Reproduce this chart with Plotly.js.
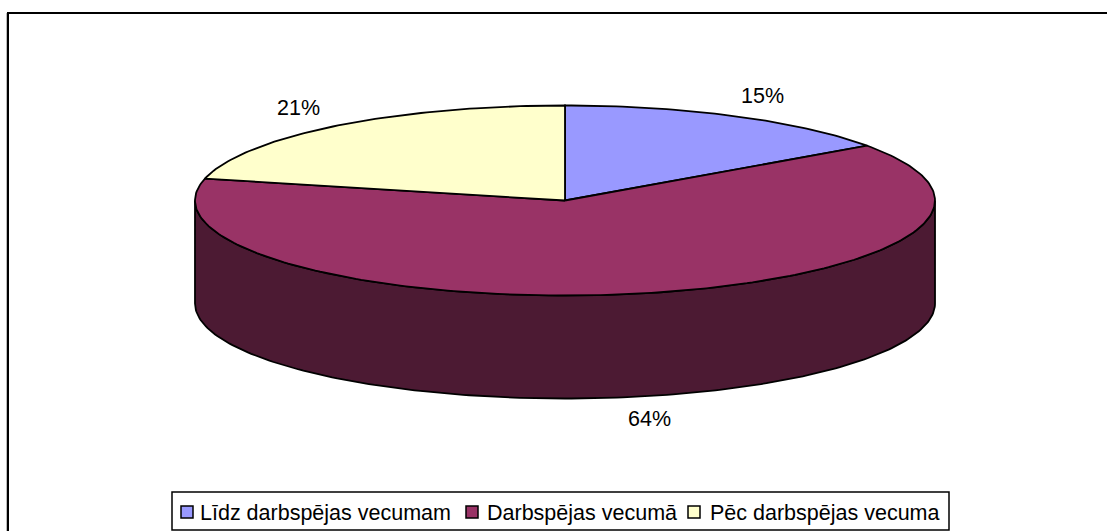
<!DOCTYPE html>
<html>
<head>
<meta charset="utf-8">
<script src="https://cdn.plot.ly/plotly-3.0.1.min.js"></script>
<style>html,body{margin:0;padding:0;background:#fff}#chart{width:1107px;height:531px}</style>
</head>
<body>
<div id="chart"></div>
<script>
var categories = ['Līdz darbspējas vecumam', 'Darbspējas vecumā', 'Pēc darbspējas vecuma'];
var values = [15.2, 63.5, 21.3];
var topColors = ['#9999FF', '#993366', '#FFFFCC'];
var sideColor = '#4C1A33';

// Pie geometry, in the pixel-sized axis units
var cx = 565, cy = 200.5, rx = 370, ry = 95, depth = 103;
var fontFamily = '"Liberation Sans", Arial, sans-serif';
var fontSize = 21.5;
var outline = {color: '#000', width: 1.8, shape: 'linear'};

var total = values.reduce(function (a, b) { return a + b; }, 0);

function rimPoint(fraction, drop) {
  var a = fraction * 2 * Math.PI;
  return [cx + rx * Math.sin(a), cy - ry * Math.cos(a) + drop];
}
function arc(from, to, drop) {
  var pts = [], n = Math.max(2, Math.ceil(Math.abs(to - from) * 360));
  for (var i = 0; i <= n; i++) pts.push(rimPoint(from + (to - from) * i / n, drop));
  return pts;
}
function areaTrace(pts, color, name) {
  return {
    type: 'scatter', mode: 'lines', name: name,
    x: pts.map(function (p) { return p[0]; }),
    y: pts.map(function (p) { return p[1]; }),
    fill: 'toself', fillcolor: color, line: outline,
    hoverinfo: 'skip', showlegend: false, cliponaxis: false
  };
}

var traces = [];
// the wall shows along the near half of the rim
traces.push(areaTrace(arc(0.25, 0.75, 0).concat(arc(0.75, 0.25, depth)).concat([rimPoint(0.25, 0)]), sideColor, 'side'));
var acc = 0;
values.forEach(function (v, i) {
  var from = acc / total, to = (acc + v) / total;
  acc += v;
  traces.push(areaTrace([[cx, cy]].concat(arc(from, to, 0)).concat([[cx, cy]]), topColors[i], categories[i]));
});

// percentage labels
var labelPos = [[762, 96], [649, 419], [298, 108]];
var annotations = values.map(function (v, i) {
  return {x: labelPos[i][0], y: labelPos[i][1], xref: 'x', yref: 'y', text: Math.round(v / total * 100) + '%',
          showarrow: false, xanchor: 'center', yanchor: 'middle', font: {family: fontFamily, size: fontSize, color: '#000'}};
});

// legend
var legendBox = {x0: 172, x1: 949, y0: 492, y1: 530};
var legendY = 512;
var legendTextY = 513;
var swatchX = [187, 472, 694];
var legendTextX = [199, 486, 709];
traces.push({
  type: 'scatter', mode: 'markers', x: swatchX, y: swatchX.map(function () { return legendY; }),
  marker: {symbol: 'square', size: 12, color: topColors, line: {color: '#000', width: 1.5}},
  hoverinfo: 'skip', showlegend: false, cliponaxis: false, name: 'legend'
});
categories.forEach(function (c, i) {
  annotations.push({x: legendTextX[i], y: legendTextY, xref: 'x', yref: 'y', text: c, showarrow: false,
    xanchor: 'left', yanchor: 'middle', xshift: -1, font: {family: fontFamily, size: fontSize, color: '#000'}});
});

var shapes = [
  {type: 'rect', xref: 'x', yref: 'y', x0: legendBox.x0, x1: legendBox.x1, y0: legendBox.y0, y1: legendBox.y1, line: {color: '#000', width: 1.5}, fillcolor: '#fff', layer: 'below'},
  {type: 'line', xref: 'x', yref: 'y', x0: 6.5, x1: 6.5, y0: 13, y1: 531, line: {color: '#bbb', width: 1}},
  {type: 'line', xref: 'x', yref: 'y', x0: 8, x1: 8, y0: 12, y1: 531, line: {color: '#000', width: 2}},
  {type: 'line', xref: 'x', yref: 'y', x0: 7, x1: 1107, y0: 13, y1: 13, line: {color: '#000', width: 2}}
];

var hidden = {visible: false, showgrid: false, zeroline: false, fixedrange: true};
var layout = {
  width: 1107, height: 531, margin: {l: 0, r: 0, t: 0, b: 0},
  paper_bgcolor: '#fff', plot_bgcolor: '#fff', showlegend: false,
  xaxis: Object.assign({range: [0, 1107]}, hidden),
  yaxis: Object.assign({range: [531, 0]}, hidden),
  shapes: shapes, annotations: annotations
};
Plotly.newPlot('chart', traces, layout, {displayModeBar: false, staticPlot: true});
</script>
</body>
</html>
